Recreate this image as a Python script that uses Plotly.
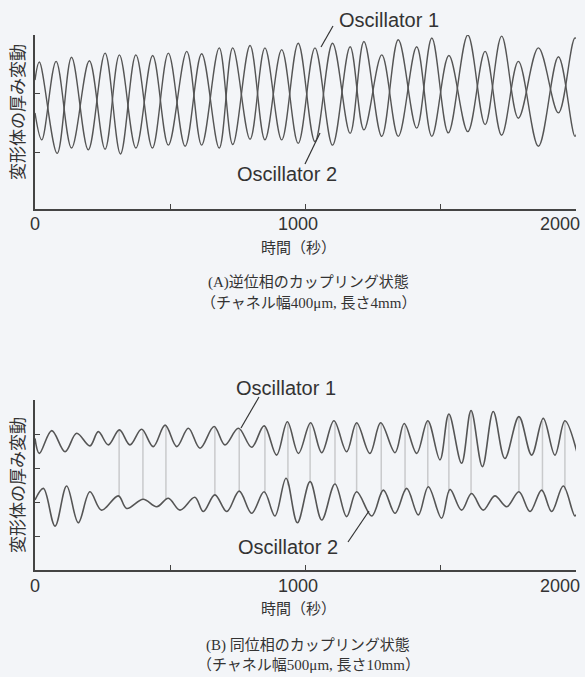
import numpy as np
import plotly.graph_objects as go

# ---------------- Data ----------------
# Panel A: anti-phase coupling (extrema times in s, relative thickness)
a_osc1_t = [0, 16, 82, 135, 197, 259, 316, 373, 434, 493, 555, 616, 681, 731, 795, 850,
            912, 973, 1035, 1100, 1165, 1216, 1282, 1343, 1411, 1467, 1528, 1600, 1664,
            1725, 1787, 1861, 1935, 1996, 2010]
a_osc1_v = [2.20, 2.51, 0.95, 2.59, 1.01, 2.66, 0.94, 2.63, 1.04, 2.66, 1.07, 2.65, 1.04,
            2.75, 1.19, 2.75, 1.18, 2.83, 1.15, 2.83, 1.29, 2.86, 1.24, 2.89, 1.38, 2.92,
            1.30, 2.97, 1.44, 2.95, 1.55, 2.75, 1.64, 2.92, 2.85]
a_osc2_t = [0, 25, 78, 135, 201, 259, 312, 373, 435, 493, 561, 616, 681, 731, 795, 850,
            912, 973, 1035, 1100, 1165, 1216, 1282, 1343, 1411, 1467, 1530, 1600, 1664,
            1725, 1787, 1861, 1935, 1996, 2010]
a_osc2_v = [1.64, 1.18, 2.52, 1.04, 2.53, 1.02, 2.63, 1.04, 2.62, 1.09, 2.69, 1.09, 2.75,
            1.10, 2.79, 1.18, 2.72, 1.12, 2.75, 1.09, 2.77, 1.35, 2.63, 1.24, 2.77, 1.24,
            2.62, 1.32, 2.69, 1.26, 2.52, 1.07, 2.60, 1.24, 1.45]

# Panel B: in-phase coupling
b_osc1_t = [0, 16, 62, 111, 154, 203, 234, 271, 312, 351, 394, 437, 481, 524, 567, 610,
            662, 702, 752, 801, 847, 893, 933, 974, 1019, 1060, 1105, 1152, 1189, 1238,
            1278, 1331, 1365, 1411, 1452, 1497, 1530, 1577, 1612, 1654, 1694, 1737, 1789,
            1836, 1879, 1922, 1959, 2003]
b_osc1_v = [3.87, 3.43, 4.10, 3.48, 4.02, 3.65, 4.07, 3.68, 4.12, 3.68, 4.14, 3.63, 4.26,
            3.63, 4.17, 3.58, 4.22, 3.68, 4.17, 3.61, 4.24, 3.38, 4.36, 3.43, 4.33, 3.45,
            4.39, 3.48, 4.33, 3.43, 4.33, 3.45, 4.31, 3.43, 4.39, 3.24, 4.59, 3.14, 4.69,
            3.04, 4.66, 3.28, 4.51, 3.38, 4.46, 3.38, 4.39, 3.48]
b_osc2_t = [0, 31, 74, 117, 160, 203, 246, 308, 339, 400, 450, 493, 536, 591, 622, 665,
            709, 755, 801, 847, 887, 928, 970, 1017, 1060, 1109, 1152, 1189, 1245, 1288,
            1331, 1374, 1417, 1454, 1503, 1534, 1577, 1614, 1657, 1700, 1744, 1789, 1830,
            1873, 1910, 1953, 1996, 2008]
b_osc2_v = [2.06, 2.40, 1.29, 2.47, 1.39, 2.30, 1.76, 2.18, 1.81, 2.08, 1.86, 2.11, 1.76,
            2.14, 1.72, 2.21, 1.72, 2.32, 1.67, 2.30, 1.59, 2.70, 1.39, 2.60, 1.47, 2.53,
            1.57, 2.30, 1.59, 2.35, 1.67, 2.40, 1.62, 2.45, 1.52, 2.37, 1.76, 2.25, 1.76,
            2.18, 1.86, 2.30, 1.72, 2.35, 1.72, 2.47, 1.59, 1.76]
# times of the light vertical in-phase markers
b_sync_t = [311, 399, 484, 665, 755, 850, 935, 1017, 1109, 1189, 1280, 1368, 1452, 1530,
            1612, 1789, 1876, 1959]

x_ticks = [0, 500, 1000, 1500, 2000]
x_ticklabels = ["0", "", "1000", "", "2000"]
a_yticks = [0.97, 1.98, 2.97]
b_yticks = [1, 2, 3, 4, 5]

W, H = 585, 677
BG = "#f3f5f8"
LINE = "#555555"
AX = "#444444"
SANS = "Liberation Sans, Arial, sans-serif"
JP = "Noto Sans CJK JP"
SERIF = "Liberation Serif, Noto Sans CJK JP"


def px(xp):
    return xp / W


def py(yp):
    return 1 - yp / H


fig = go.Figure()
fig.add_trace(go.Scatter(x=a_osc1_t, y=a_osc1_v, mode="lines", line=dict(color=LINE, width=1.4, shape="spline", smoothing=1.0), xaxis="x", yaxis="y", showlegend=False))
fig.add_trace(go.Scatter(x=a_osc2_t, y=a_osc2_v, mode="lines", line=dict(color=LINE, width=1.4, shape="spline", smoothing=1.0), xaxis="x", yaxis="y", showlegend=False))

# in-phase markers for panel B
sx, sy = [], []
for t in b_sync_t:
    top = float(np.interp(t, b_osc1_t, b_osc1_v))
    bot = float(np.interp(t, b_osc2_t, b_osc2_v))
    sx += [t, t, None]
    sy += [top, bot, None]
fig.add_trace(go.Scatter(x=sx, y=sy, mode="lines", line=dict(color="#c9cacc", width=1.5), xaxis="x2", yaxis="y2", showlegend=False))
fig.add_trace(go.Scatter(x=b_osc1_t, y=b_osc1_v, mode="lines", line=dict(color=LINE, width=1.6, shape="spline", smoothing=1.0), xaxis="x2", yaxis="y2", showlegend=False))
fig.add_trace(go.Scatter(x=b_osc2_t, y=b_osc2_v, mode="lines", line=dict(color=LINE, width=1.6, shape="spline", smoothing=1.0), xaxis="x2", yaxis="y2", showlegend=False))

xdom = [px(35), px(576)]
xcommon = dict(range=[0, 2000], domain=xdom, showgrid=False, zeroline=False, showline=True,
               linecolor=AX, linewidth=1.5, ticks="inside", ticklen=5, tickwidth=1.2,
               tickcolor=AX, tickvals=x_ticks, showticklabels=False, fixedrange=True)
ycommon = dict(showgrid=False, zeroline=False, showline=True, linecolor=AX, linewidth=1.5,
               ticks="inside", ticklen=5, tickwidth=1.2, tickcolor=AX,
               showticklabels=False, fixedrange=True)

fig.update_layout(
    width=W, height=H,
    margin=dict(l=0, r=0, t=0, b=0),
    paper_bgcolor=BG, plot_bgcolor=BG,
    xaxis=dict(**xcommon, anchor="y"),
    yaxis=dict(**ycommon, range=[0, 2.97], domain=[py(209), py(35)], tickvals=a_yticks, anchor="x"),
    xaxis2=dict(**xcommon, anchor="y2"),
    yaxis2=dict(**ycommon, range=[0, 5], domain=[py(570), py(400)], tickvals=b_yticks, anchor="x2"),
)

ann = []
C = dict(xanchor="center", yanchor="middle", showarrow=False)
# tick labels
for xa, ylab in (("x", 224), ("x2", 586)):
    for v, lab in zip(x_ticks, x_ticklabels):
        if not lab:
            continue
        shift = {0: 0, 1000: -8, 2000: -16}[v]
        ann.append(dict(x=v, xref=xa, y=py(ylab), yref="paper", text=lab,
                        xshift=shift, font=dict(family=SANS, size=18, color="#333"), **C))

# axis titles
for yc, xt in ((112, 246), (485, 607)):
    ann.append(dict(x=px(16), y=py(yc), xref="paper", yref="paper", text="変形体の厚み変動",
                    textangle=-90, font=dict(family=JP, size=17, color="#333"), **C))
    ann.append(dict(x=px(298), y=py(xt), xref="paper", yref="paper", text="時間（秒）",
                    font=dict(family=JP, size=15, color="#333"), **C))

# captions
caps = [(283, "(A)逆位相のカップリング状態"), (303, "（チャネル幅400μm, 長さ4mm）"),
        (645, "(B) 同位相のカップリング状態"), (665, "（チャネル幅500μm, 長さ10mm）")]
for yc, txt in caps:
    ann.append(dict(x=px(308), y=py(yc), xref="paper", yref="paper", text=txt,
                    font=dict(family=SERIF, size=15, color="#333"), **C))

# oscillator labels
labs = [(389, 20, "Oscillator 1"), (287, 174, "Oscillator 2"),
        (286, 388, "Oscillator 1"), (288, 547, "Oscillator 2")]
for xc, yc, txt in labs:
    ann.append(dict(x=px(xc), y=py(yc), xref="paper", yref="paper", text=txt,
                    font=dict(family=SANS, size=20, color="#333"), **C))
fig.update_layout(annotations=ann)

leaders = [((333, 26), (321, 47)), ((305, 164), (320, 133)),
           ((259, 397), (241, 428)), ((348, 542), (369, 511))]
for (x0, y0), (x1, y1) in leaders:
    fig.add_shape(type="line", xref="paper", yref="paper", x0=px(x0), y0=py(y0),
                  x1=px(x1), y1=py(y1), line=dict(color="#333", width=1.2))

fig.write_html("out.html", config={"displayModeBar": False},
               post_script="document.body.style.margin='0';document.body.style.padding='0';"
                           "document.body.style.background='" + BG + "';")
